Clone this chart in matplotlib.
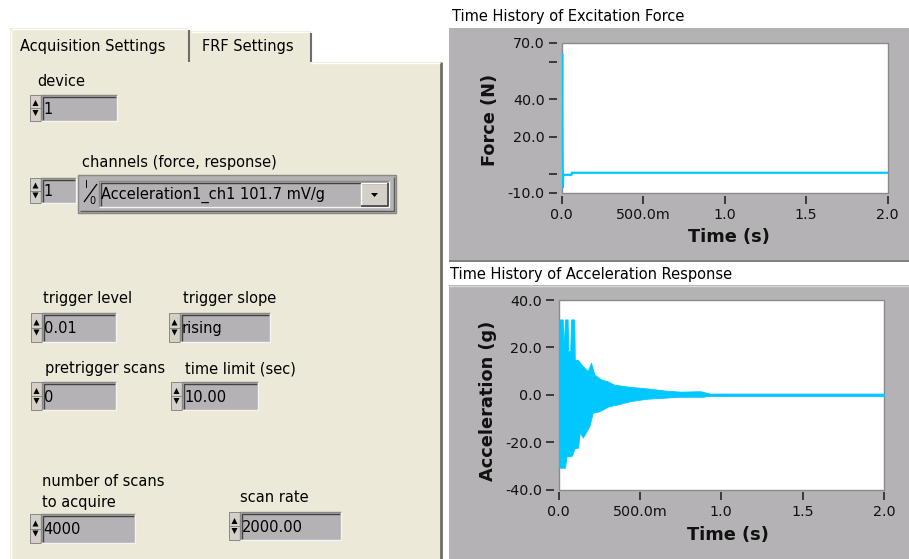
import matplotlib
matplotlib.use("Agg")
import matplotlib.pyplot as plt
from matplotlib.patches import Rectangle, Polygon

# --- data ---
force_time = [0.0, 0.004, 0.006, 0.008, 0.011, 0.014, 0.062, 0.064, 2.0]
force_value = [-0.3, 64.0, 20.0, -7.0, -0.3, -0.3, -0.3, 0.8, 0.8]

accel_up_time = [0.0, 0.026, 0.029, 0.033, 0.040, 0.056, 0.060, 0.072, 0.077, 0.097,
                 0.100, 0.12, 0.15, 0.18, 0.20, 0.22, 0.26, 0.30, 0.34, 0.43, 0.51,
                 0.57, 0.65, 0.75, 0.87, 0.90, 0.93, 2.0]
accel_up = [31.8, 31.8, 22.6, 22.6, 31.8, 31.8, 18.4, 18.4, 31.8, 31.8,
            14.9, 14.6, 12.0, 10.0, 13.5, 8.6, 6.5, 5.7, 4.3, 3.4, 2.9,
            2.5, 1.8, 1.3, 1.5, 1.0, 0.5, 0.5]
accel_lo_time = [0.0, 0.04, 0.05, 0.08, 0.10, 0.12, 0.13, 0.15, 0.19, 0.21, 0.25,
                 0.31, 0.37, 0.44, 0.54, 0.64, 0.74, 0.89, 0.92, 2.0]
accel_lo = [-30.8, -30.8, -25.9, -25.9, -22.4, -22.4, -16.0, -18.0, -13.2, -7.6, -7.0,
            -4.8, -4.0, -2.7, -1.7, -1.3, -0.85, -0.85, -0.5, -0.5]

force_yticks = [-10, 0, 20, 40, 60, 70]
force_ylabels = ["-10.0", "", "20.0", "40.0", "", "70.0"]
accel_yticks = [-40, -20, 0, 20, 40]
accel_ylabels = ["-40.0", "-20.0", "0.0", "20.0", "40.0"]
time_ticks = [0.0, 0.5, 1.0, 1.5, 2.0]
time_labels = ["0.0", "500.0m", "1.0", "1.5", "2.0"]

tab_names = ["Acquisition Settings", "FRF Settings"]
control_labels = ["device", "trigger level", "trigger slope", "pretrigger scans",
                  "time limit (sec)", "scan rate"]
control_values = ["1", "0.01", "rising", "0", "10.00", "2000.00"]
scans_label = ["number of scans", "to acquire"]
scans_value = "4000"
channel_label = "channels (force, response)"
channel_index = "1"
channel_name = "Acceleration1_ch1 101.7 mV/g"

W, H = 909, 559
BEIGE = "#ECE9D8"
GREY = "#B5B2B5"
CYAN = "#00C8FF"
FONT = "DejaVu Sans"

plt.rcParams["font.family"] = FONT

fig = plt.figure(figsize=(W / 100, H / 100), dpi=100, facecolor="white")
bg = fig.add_axes([0, 0, 1, 1])
bg.set_xlim(0, W)
bg.set_ylim(H, 0)
bg.axis("off")


def rect(x0, y0, x1, y1, **kw):
    bg.add_patch(Rectangle((x0, y0), x1 - x0, y1 - y0, **kw))


def line(xs, ys, color, lw=1.0):
    bg.plot(xs, ys, color=color, lw=lw, solid_capstyle="butt")


def sunken_box(x0, y0, x1, y1, fill=GREY):
    rect(x0, y0, x1, y1, facecolor=fill, edgecolor="none")
    line([x0, x0, x1], [y1, y0, y0], "#8a8886", 1.0)
    line([x0 + 1.5, x0 + 1.5, x1 - 1.5], [y1 - 1.5, y0 + 1.5, y0 + 1.5], "#404040", 1.0)
    line([x0, x1, x1], [y1, y1, y0], "#f4f4f4", 1.0)


def spinner(x0, y0, y1):
    x1 = x0 + 11
    rect(x0, y0, x1, y1, facecolor="#D4D0C8", edgecolor="#7a7a7a", lw=0.6)
    mid = (y0 + y1) / 2
    cx = (x0 + x1) / 2
    bg.add_patch(Polygon([[cx - 3, mid - 2], [cx + 3, mid - 2], [cx, mid - 8]],
                         closed=True, facecolor="black", edgecolor="none"))
    bg.add_patch(Polygon([[cx - 3, mid + 2], [cx + 3, mid + 2], [cx, mid + 8]],
                         closed=True, facecolor="black", edgecolor="none"))
    line([x0, x1], [mid, mid], "#7a7a7a", 0.6)
    return x1


def numeric(x0, x1, y0, y1, value):
    sx = spinner(x0, y0, y1)
    sunken_box(sx, y0, x1, y1)
    bg.text(sx + 2, (y0 + y1) / 2 + 1, value, fontsize=10.5, va="center", ha="left",
            color="black")


# --- tab control ---
rect(10, 62, 441, H, facecolor=BEIGE, edgecolor="none")
line([441, 441], [62, H], "#6f6d66", 2.0)
line([311, 440], [62.5, 62.5], "white", 1.0)
line([10.5, 10.5], [30, H], "white", 1.0)
# tabs
rect(10, 28, 188, 63, facecolor=BEIGE, edgecolor="none")
line([188.5, 188.5], [30, 62], "#6f6d66", 1.5)
rect(190, 31, 311, 62, facecolor=BEIGE, edgecolor="none")
line([310.5, 310.5], [33, 62], "#6f6d66", 1.5)
line([12, 187], [28.5, 28.5], "white", 1.0)
line([191, 309], [31.5, 31.5], "white", 1.0)
bg.text(20, 47, tab_names[0], fontsize=10.5, va="center", ha="left", color="black")
bg.text(202, 47, tab_names[1], fontsize=10.5, va="center", ha="left", color="black")

# controls
label_pos = [(37, 82), (43, 299), (183, 299), (45, 369), (185, 369), (240, 497)]
box_pos = [(30, 117, 95, 121), (31, 116, 313, 342), (169, 270, 313, 342),
           (31, 116, 382, 410), (171, 258, 382, 410), (229, 341, 512, 540)]
for text, (lx, ly) in zip(control_labels, label_pos):
    bg.text(lx, ly, text, fontsize=10.5, va="center", ha="left", color="black")
for value, (x0, x1, y0, y1) in zip(control_values, box_pos):
    numeric(x0, x1, y0, y1, value)

bg.text(42, 482, scans_label[0], fontsize=10.5, va="center", ha="left", color="black")
bg.text(42, 502, scans_label[1], fontsize=10.5, va="center", ha="left", color="black")
numeric(30, 135, 514, 543, scans_value)

# channels ring
bg.text(82, 163, channel_label, fontsize=10.5, va="center", ha="left", color="black")
numeric(30, 76, 178, 203, channel_index)
rect(78, 175, 396, 213, facecolor=GREY, edgecolor="#8a8886", lw=1.0)
line([80, 394, 394], [211, 211, 177], "#5a5a5a", 1.0)
sunken_box(99, 181, 389, 207)
bg.text(86, 185, "I", fontsize=7, va="center", ha="center", color="black")
bg.text(92.5, 201, "0", fontsize=7, va="center", ha="center", color="black")
line([84, 97], [202, 184], "black", 0.9)
bg.text(101, 195, channel_name, fontsize=10.5, va="center", ha="left", color="black")
rect(361, 183, 388, 206, facecolor="#D4D0C8", edgecolor="none")
line([361, 361, 388], [206, 183, 183], "white", 1.0)
line([361, 388, 388], [206, 206, 183], "#404040", 1.2)
bg.add_patch(Polygon([[371, 193], [378, 193], [374.5, 197]], closed=True,
                     facecolor="black", edgecolor="none"))

# --- graph panels ---
rect(449, 28, W, 260, facecolor=GREY, edgecolor="none")
line([449, W], [261, 261], "#6a6a6a", 1.2)
rect(449, 285, W, H, facecolor=GREY, edgecolor="none")
line([449, W], [285.5, 285.5], "#d8d6d8", 1.0)
bg.text(452, 16, "Time History of Excitation Force", fontsize=10.5, va="center",
        ha="left", color="black")
bg.text(450, 274, "Time History of Acceleration Response", fontsize=10.5,
        va="center", ha="left", color="black")


def px_axes(left, top, right, bottom):
    return fig.add_axes([left / W, 1 - bottom / H, (right - left) / W, (bottom - top) / H])


def style_graph(ax):
    ax.set_facecolor("white")
    for side in ("top", "right"):
        ax.spines[side].set_visible(False)
    ax.spines["left"].set_position(("outward", 3))
    ax.spines["bottom"].set_position(("outward", 2))
    ax.spines["left"].set_visible(False)
    ax.spines["bottom"].set_visible(False)
    ax.add_patch(Rectangle((0, 0), 1, 1, transform=ax.transAxes, fill=False,
                           edgecolor="#8a8a8a", lw=1.0, clip_on=False, zorder=1))
    ax.tick_params(axis="both", direction="out", length=6, width=1.3, color="#303030",
                   labelsize=10.3, labelcolor="#111111", pad=3)
    ax.set_xlim(0, 2.0)
    ax.set_xticks(time_ticks, labels=time_labels)


ax1 = px_axes(561.5, 43, 887.5, 193)
ax1.plot(force_time, force_value, color=CYAN, lw=1.6, zorder=6)
ax1.set_ylim(-10, 70)
ax1.set_yticks(force_yticks, labels=force_ylabels)
style_graph(ax1)

ax2 = px_axes(558.5, 300, 884, 489.5)
ax2.fill_between(accel_up_time, 0, accel_up, color=CYAN, lw=0.6, zorder=6)
ax2.fill_between(accel_lo_time, accel_lo, 0, color=CYAN, lw=0.6, zorder=6)
ax2.set_ylim(-40, 40)
ax2.set_yticks(accel_yticks, labels=accel_ylabels)
style_graph(ax2)

# axis names, placed in screen pixels like the LabVIEW graph
bg.text(490, 120, "Force (N)", fontsize=12.8, fontweight="bold", rotation=90,
        va="center", ha="center", color="#111111")
bg.text(729, 237, "Time (s)", fontsize=12.8, fontweight="bold", va="center",
        ha="center", color="#111111")
bg.text(488, 401, "Acceleration (g)", fontsize=12.8, fontweight="bold", rotation=90,
        va="center", ha="center", color="#111111")
bg.text(728, 535, "Time (s)", fontsize=12.8, fontweight="bold", va="center",
        ha="center", color="#111111")

fig.savefig("out.png", dpi=100, facecolor="white")
